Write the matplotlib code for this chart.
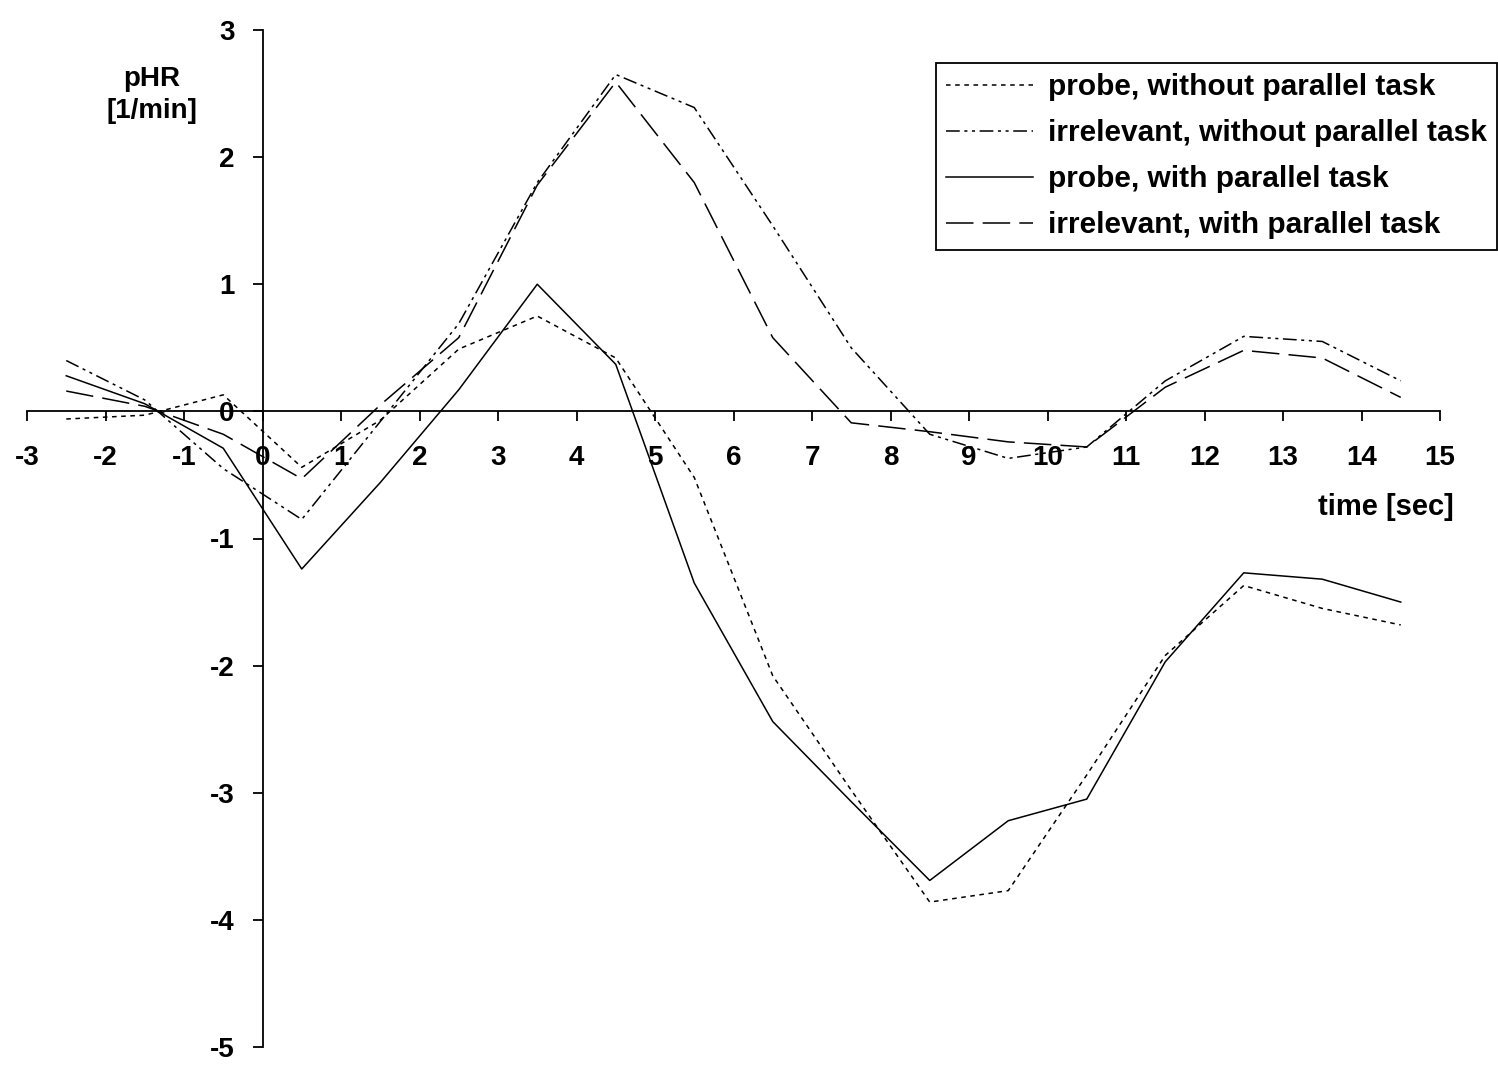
import matplotlib
matplotlib.use("Agg")
import matplotlib.pyplot as plt

plt.rcParams['font.family'] = ['Liberation Sans', 'DejaVu Sans']
plt.rcParams['axes.unicode_minus'] = False

# time points (sec)
t = [-2.5, -1.5, -0.5, 0.5, 1.5, 2.5, 3.5, 4.5, 5.5, 6.5, 7.5, 8.5, 9.5, 10.5, 11.5, 12.5, 13.5, 14.5]

# pHR [1/min] per condition
probe_without = [-0.06, -0.03, 0.13, -0.44, -0.07, 0.49, 0.75, 0.42, -0.52, -2.08,
                 -2.98, -3.86, -3.77, -2.86, -1.92, -1.37, -1.55, -1.68]
irrelevant_without = [0.40, 0.09, -0.45, -0.85, -0.08, 0.69, 1.80, 2.65, 2.39, 1.46,
                      0.50, -0.18, -0.37, -0.28, 0.24, 0.59, 0.55, 0.24]
probe_with = [0.28, 0.06, -0.29, -1.24, -0.56, 0.17, 1.00, 0.37, -1.35, -2.44,
              -3.07, -3.69, -3.22, -3.05, -1.97, -1.27, -1.32, -1.50]
irrelevant_with = [0.16, 0.04, -0.18, -0.53, 0.05, 0.58, 1.78, 2.59, 1.80, 0.58,
                   -0.09, -0.16, -0.24, -0.28, 0.19, 0.48, 0.42, 0.11]

labels = ["probe, without parallel task", "irrelevant, without parallel task",
          "probe, with parallel task", "irrelevant, with parallel task"]

fig = plt.figure(figsize=(14.98, 10.66), dpi=100)
ax = fig.add_axes([27/1498, 19/1066, 1413/1498, 1017/1066])

ax.plot(t, probe_without, color='black', lw=1.1, ls=(0, (3, 3)), label=labels[0])
ax.plot(t, irrelevant_without, color='black', lw=1.1, ls=(0, (9, 3, 2, 3, 2, 3)), label=labels[1])
ax.plot(t, probe_with, color='black', lw=1.1, ls='-', label=labels[2])
ax.plot(t, irrelevant_with, color='black', lw=1.1, ls=(0, (18, 6)), label=labels[3])

ax.set_xlim(-3, 15)
ax.set_ylim(-5, 3)
ax.set_xticks(range(-3, 16))
ax.set_yticks(range(-5, 4))

ax.spines['left'].set_position(('data', 0))
ax.spines['bottom'].set_position(('data', 0))
ax.spines['top'].set_visible(False)
ax.spines['right'].set_visible(False)
for s in ('left', 'bottom'):
    ax.spines[s].set_linewidth(1.3)

ax.tick_params(axis='x', direction='out', length=7, width=1.3, pad=17, labelsize=20)
ax.tick_params(axis='y', direction='out', length=7, width=1.3, pad=13, labelsize=20)
for lab in ax.get_xticklabels() + ax.get_yticklabels():
    lab.set_fontweight('bold')

fig.text(152/1498, 1 - 95/1066, "pHR\n[1/min]", ha='center', va='center',
         fontsize=20, fontweight='bold', linespacing=1.3)
fig.text(1386/1498, 1 - 507/1066, "time [sec]", ha='center', va='center',
         fontsize=21, fontweight='bold')

leg = ax.legend(loc='upper right', bbox_to_anchor=(1497/1498, 1 - 63/1066),
                bbox_transform=fig.transFigure, borderaxespad=0, fancybox=False,
                edgecolor='black', framealpha=1, handlelength=2.9,
                prop={'size': 21.5, 'weight': 'bold'}, labelspacing=0.6,
                borderpad=0.35, handletextpad=0.5)
leg.get_frame().set_linewidth(1.3)

fig.savefig("out.png", dpi=100)
